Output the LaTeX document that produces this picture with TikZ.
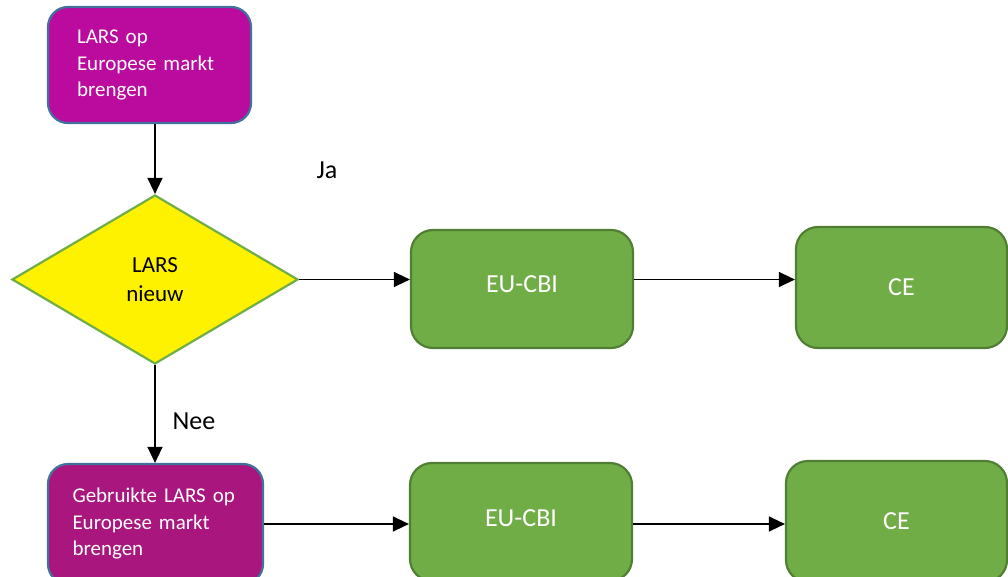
\documentclass[tikz,border=0pt]{standalone}
\usepackage{fontspec}
\setmainfont{Carlito}
\usetikzlibrary{positioning, arrows.meta, calc, shapes.geometric}

\definecolor{larspink}{HTML}{BB0A9E}
\definecolor{usedpink}{HTML}{A9167E}
\definecolor{boxblue}{HTML}{41719C}
\definecolor{cbigreen}{HTML}{70AD47}
\definecolor{cbiedge}{HTML}{507E32}

\begin{document}
\begin{tikzpicture}[
    x=1pt, y=-1pt,
    startbox/.style={draw=boxblue, line width=2.2pt, rectangle, rounded corners=20pt, text=white, align=left, inner xsep=0pt, font=\fontsize{21}{26.5}\selectfont},
    keuze/.style={draw=cbigreen, line width=2.2pt, diamond, fill=yellow, inner sep=0pt, minimum width=286pt, minimum height=169pt, align=center, font=\fontsize{23}{29}\selectfont},
    gbox/.style={draw=cbiedge, line width=2.2pt, fill=cbigreen, rectangle, rounded corners=22pt, text=white, font=\fontsize{26}{31}\selectfont},
    flow/.style={-{Triangle[length=16pt, width=15pt]}, line width=1.4pt},
    answer/.style={font=\fontsize{26}{31}\selectfont}
]
    \useasboundingbox (0,0) rectangle (1008,577);

    % Start boxes
    \node[startbox, fill=larspink, minimum width=203pt, minimum height=116pt, text width=145pt] (start) at (149.5,65) {LARS op\\Europese markt\\brengen};
    \node[startbox, fill=usedpink, minimum width=215pt, minimum height=120pt, text width=166pt] (used) at (155.5,524) {Gebruikte LARS op\\Europese markt\\brengen};

    % Decision
    \node[keuze] (nieuw) at (155,279.5) {LARS\\nieuw};

    % Upper row (Ja)
    \node[gbox, minimum width=222pt, minimum height=118pt] (cbi1) at (522,289) {\raisebox{9pt}{EU-CBI}};
    \node[gbox, minimum width=211pt, minimum height=121pt] (ce1) at (901.5,287.5) {CE};

    % Lower row (Nee)
    \node[gbox, minimum width=222pt, minimum height=118pt] (cbi2) at (521,522) {\raisebox{7pt}{EU-CBI}};
    \node[gbox, minimum width=221pt, minimum height=121pt] (ce2) at (896.5,521.5) {CE};

    % Labels
    \node[answer] (ja) at (327,170) {Ja};
    \node[answer] (nee) at (194,421) {Nee};

    % Arrows
    \draw[flow] (start.south -| nieuw.north) -- (nieuw.north);
    \draw[flow] (nieuw.east) -- (nieuw.east -| cbi1.west);
    \draw[flow] (nieuw.east -| cbi1.east) -- (nieuw.east -| ce1.west);
    \draw[flow] (nieuw.south) -- (nieuw.south |- used.north);
    \draw[flow] (used.east) -- (used.east -| cbi2.west);
    \draw[flow] (used.east -| cbi2.east) -- (used.east -| ce2.west);

\end{tikzpicture}
\end{document}
